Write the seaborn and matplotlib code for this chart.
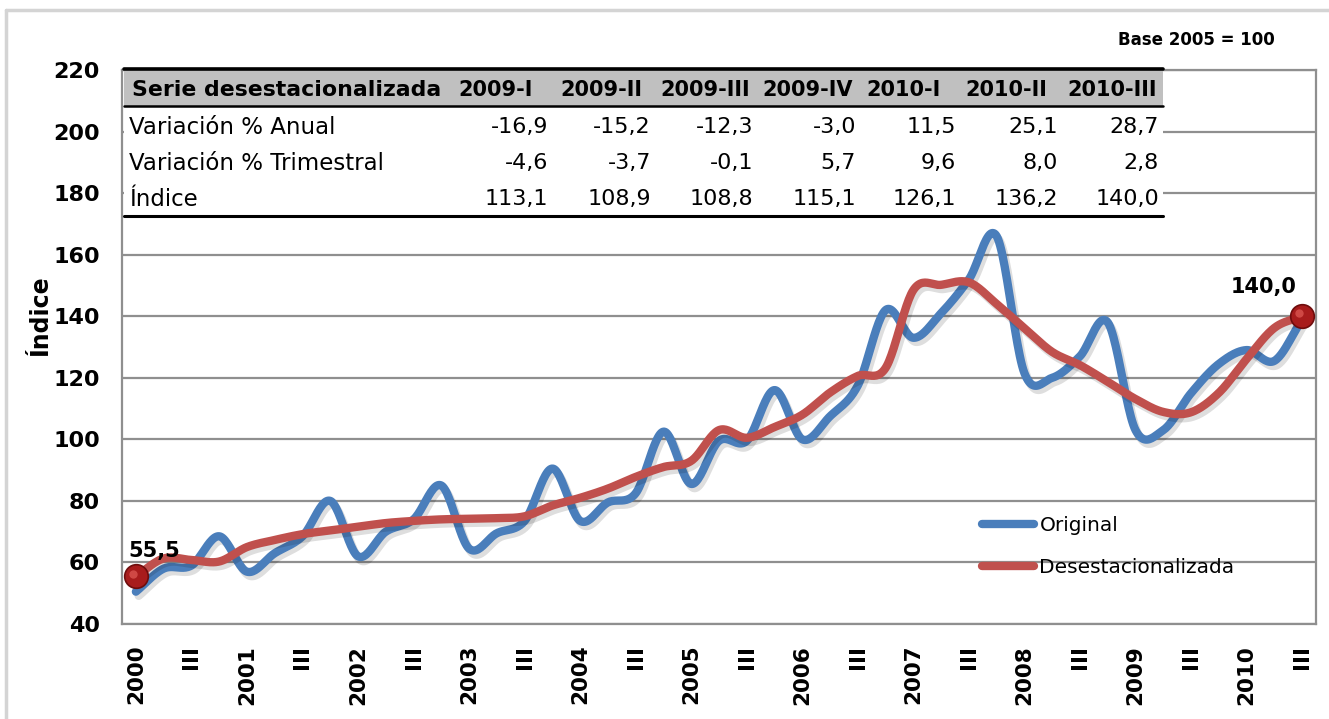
import numpy as np
import pandas as pd
import matplotlib
matplotlib.use("Agg")
import matplotlib.pyplot as plt
import matplotlib.patheffects as pe
from matplotlib.patches import Rectangle
from matplotlib.lines import Line2D
import seaborn as sns

# ---- data -------------------------------------------------------------
years = list(range(2000, 2011))
quarter_names = ["I", "II", "III", "IV"]
periods = [f"{y}-{q}" for y in years for q in quarter_names][:43]

original = [50.5, 58.0, 59.0, 68.5, 57.0, 63.0, 68.5, 80.0, 62.0, 70.0,
            74.0, 85.0, 64.5, 69.5, 73.5, 90.5, 73.5, 79.5, 82.5, 102.5,
            85.5, 99.5, 99.5, 116.0, 100.0, 107.5, 117.5, 142.0, 133.0, 141.0,
            152.0, 166.0, 121.5, 120.0, 127.0, 138.0, 103.0, 103.0, 115.0, 124.5,
            129.0, 125.5, 139.0]

desestacionalizada = [55.5, 61.3, 60.8, 60.3, 65.0, 67.3, 69.2, 70.4, 71.6, 72.8,
                      73.5, 74.0, 74.2, 74.4, 75.0, 78.5, 81.0, 84.0, 87.8, 91.0,
                      93.0, 103.0, 100.5, 104.0, 108.0, 115.2, 120.6, 123.2, 148.5, 150.2,
                      151.0, 144.0, 136.1, 128.4, 124.1, 118.7, 113.1, 108.9, 108.8, 115.1,
                      126.1, 136.2, 140.0]

series_names = ["Original", "Desestacionalizada"]
tick_labels = [str(y) if i % 4 == 0 else ("III" if i % 4 == 2 else "")
               for i, y in enumerate([p.split("-")[0] for p in periods])]

table_title = "Serie desestacionalizada"
table_cols = ["2009-I", "2009-II", "2009-III", "2009-IV", "2010-I", "2010-II", "2010-III"]
row_names = ["Variación % Anual", "Variación % Trimestral", "Índice"]
var_anual = ["-16,9", "-15,2", "-12,3", "-3,0", "11,5", "25,1", "28,7"]
var_trimestral = ["-4,6", "-3,7", "-0,1", "5,7", "9,6", "8,0", "2,8"]
indice = ["113,1", "108,9", "108,8", "115,1", "126,1", "136,2", "140,0"]

y_ticks = list(range(40, 221, 20))

BLUE = "#4a7ebb"
RED = "#c0504d"
GRID = "#8f8f8f"


def smooth(values, steps=24):
    """Catmull-Rom curve through the quarterly points (Excel-style smoothed line)."""
    v = np.asarray(values, float)
    p = np.concatenate([[2 * v[0] - v[1]], v, [2 * v[-1] - v[-2]]])
    xs, ys = [], []
    t = np.linspace(0, 1, steps, endpoint=False)
    for i in range(len(v) - 1):
        p0, p1, p2, p3 = p[i], p[i + 1], p[i + 2], p[i + 3]
        y = 0.5 * (2 * p1 + (-p0 + p2) * t + (2 * p0 - 5 * p1 + 4 * p2 - p3) * t ** 2
                   + (-p0 + 3 * p1 - 3 * p2 + p3) * t ** 3)
        xs.append(i + t)
        ys.append(y)
    xs.append([len(v) - 1])
    ys.append([v[-1]])
    return np.concatenate(xs), np.concatenate(ys)


frames = []
for name, vals in zip(series_names, [original, desestacionalizada]):
    sx, sy = smooth(vals)
    frames.append(pd.DataFrame({"x": sx, "valor": sy, "serie": name}))
curves = pd.concat(frames, ignore_index=True)

# ---- figure -------------------------------------------------------------
sns.set_style("white")
plt.rcParams["font.family"] = ["DejaVu Sans"]
plt.rcParams["text.color"] = "black"
plt.rcParams["axes.labelcolor"] = "black"
plt.rcParams["xtick.color"] = "black"
plt.rcParams["ytick.color"] = "black"

W, H = 1329, 719
fig = plt.figure(figsize=(W / 100, H / 100), dpi=100)


def fx(px):
    return px / W


def fy(py):
    return 1 - py / H


ax = fig.add_axes([fx(122), fy(624), fx(1316) - fx(122), fy(70) - fy(624)])

shadow = [pe.SimpleLineShadow(offset=(2.0, -3.0), shadow_color="#000000", alpha=0.13),
          pe.Normal()]
sns.lineplot(data=curves, x="x", y="valor", hue="serie", palette=[BLUE, RED],
             hue_order=series_names, linewidth=6, sort=False, estimator=None,
             legend=False, ax=ax, zorder=3)
for ln in ax.lines:
    ln.set_path_effects(shadow)
    ln.set_solid_capstyle("round")

# end-point markers on the seasonally adjusted series
for idx, off in [(0, (13, 18)), (len(desestacionalizada) - 1, (-28, 21))]:
    val = desestacionalizada[idx]
    ax.plot(idx, val, "o", ms=17, mfc="#a81c1c", mec="#6e0d0d", mew=1.2, zorder=5)
    ax.plot(idx - 0.1, val + 0.9, "o", ms=6, mfc="#d9544f", mec="none", alpha=0.8, zorder=6)
    ax.annotate(f"{val:.1f}".replace(".", ","), xy=(idx, val), xytext=off,
                textcoords="offset points", ha="center", va="center",
                fontsize=15, fontweight="bold", zorder=6)

ax.set_xlim(-0.5, len(periods) - 0.5)
ax.set_ylim(40, 220)
ax.set_yticks(y_ticks)
ax.set_yticklabels([str(t) for t in y_ticks], fontsize=16, fontweight="bold")
ax.yaxis.grid(True, color=GRID, linewidth=1.6)
ax.set_axisbelow(True)

ax.set_xticks(np.arange(-0.5, len(periods), 1.0))
ax.set_xticklabels([])
ax.set_xticks([i for i, t in enumerate(tick_labels) if t], minor=True)
ax.set_xticklabels([t for t in tick_labels if t], minor=True, rotation=90,
                   fontsize=15.5, fontweight="bold", va="top")
ax.tick_params(axis="x", which="major", direction="out", length=7, width=1.3, color=GRID)
ax.tick_params(axis="x", which="minor", length=0, pad=15)
ax.tick_params(axis="y", direction="out", length=6, width=1.3, color=GRID, pad=10)
ax.set_xlabel("")
ax.set_ylabel("")
for s in ax.spines.values():
    s.set_color(GRID)
    s.set_linewidth(1.6)

fig.text(fx(40), fy(315), "Índice", rotation=90, ha="center", va="center",
         fontsize=17, fontweight="bold")
fig.text(fx(1275), fy(40), "Base 2005 = 100", ha="right", va="center",
         fontsize=12, fontweight="bold")

# legend
handles = [Line2D([0], [0], color=c, lw=6, solid_capstyle="round") for c in [BLUE, RED]]
fig.legend(handles, series_names, loc="upper left", bbox_to_anchor=(fx(974), fy(508)),
           frameon=False, fontsize=14.5, handlelength=2.6, handletextpad=0.25,
           labelspacing=1.15, borderaxespad=0)

# ---- summary table ------------------------------------------------------
t_left, t_right = 124, 1163
t_top, head_bot, t_bot = 69, 106, 216
fig.patches.append(Rectangle((fx(t_left), fy(t_bot)), fx(t_right) - fx(t_left),
                             fy(t_top) - fy(t_bot), transform=fig.transFigure,
                             facecolor="white", edgecolor="none", zorder=4))
fig.patches.append(Rectangle((fx(t_left), fy(head_bot)), fx(t_right) - fx(t_left),
                             fy(t_top) - fy(head_bot), transform=fig.transFigure,
                             facecolor="#c0c0c0", edgecolor="none", zorder=4))
for yy, lw in [(t_top, 2.6), (head_bot, 1.8), (t_bot, 2.2)]:
    fig.add_artist(Line2D([fx(t_left), fx(t_right)], [fy(yy), fy(yy)],
                          transform=fig.transFigure, color="black", lw=lw, zorder=5))

head_x = [458, 560, 660, 762, 866, 965, 1067]
val_x = [548, 651, 753, 856, 956, 1058, 1159]
fig.text(fx(132), fy(90), table_title, ha="left", va="center", fontsize=15.8,
         fontweight="bold", zorder=6)
for hx, c in zip(head_x, table_cols):
    fig.text(fx(hx), fy(90), c, ha="left", va="center", fontsize=15,
             fontweight="bold", zorder=6)
for ry, name, vals in zip([127, 163, 199], row_names, [var_anual, var_trimestral, indice]):
    fig.text(fx(129), fy(ry), name, ha="left", va="center", fontsize=16.5, zorder=6)
    for vx, v in zip(val_x, vals):
        fig.text(fx(vx), fy(ry), v, ha="right", va="center", fontsize=16, zorder=6)

# chart frame
for xs_, ys_ in [([6, W], [10, 10]), ([6, 6], [10, H])]:
    fig.add_artist(Line2D([fx(x) for x in xs_], [fy(y) for y in ys_],
                          transform=fig.transFigure, color="#d4d4d4", lw=2.5))

fig.savefig("out.png", dpi=100, facecolor="white")
